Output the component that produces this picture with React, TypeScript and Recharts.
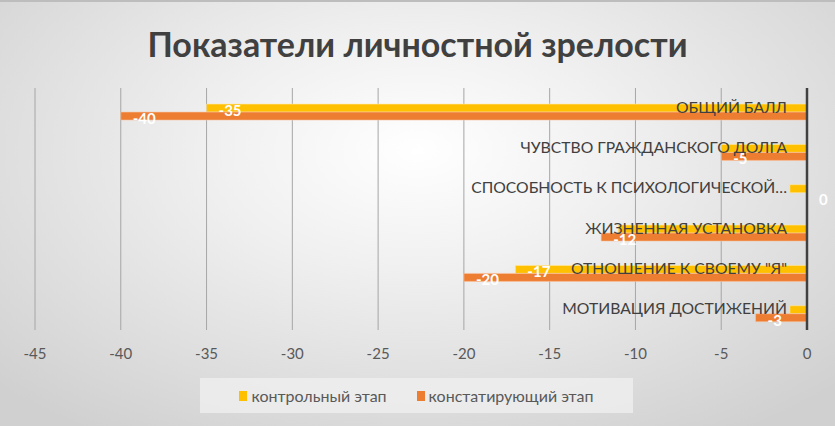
import React from 'react';
import { BarChart, Bar, XAxis, YAxis, CartesianGrid, Legend, LabelList } from 'recharts';

const categories = [
  'ОБЩИЙ БАЛЛ',
  'ЧУВСТВО ГРАЖДАНСКОГО ДОЛГА',
  'СПОСОБНОСТЬ К ПСИХОЛОГИЧЕСКОЙ…',
  'ЖИЗНЕННАЯ УСТАНОВКА',
  'ОТНОШЕНИЕ К СВОЕМУ "Я"',
  'МОТИВАЦИЯ ДОСТИЖЕНИЙ',
];
const controlStage = [-35, -5, -1, -11, -17, -1];
const statingStage = [-40, -5, 0, -12, -20, -3];
const xTicks = [-45, -40, -35, -30, -25, -20, -15, -10, -5, 0];

const seriesNames = ['контрольный этап', 'констатирующий этап'];
const YELLOW = '#FFC000';
const ORANGE = '#ED7D31';
const FONT = 'Lato, "Noto Sans", sans-serif';

const data = categories.map((name, i) => ({
  name,
  control: controlStage[i],
  stating: statingStage[i],
}));

// category text sits over the yellow bars; hide yellow labels that would collide with it
const CHAR_W = 10.2;

const CategoryTick = (props: any) => {
  const { x, y, payload } = props;
  return (
    <text x={x - 20} y={y - 1.5} textAnchor="end" dominantBaseline="central"
      fill="#404040" fontSize={15.7} fontFamily={FONT}>
      {payload.value}
    </text>
  );
};

const makeLabel = (hideUnderText: boolean) => (props: any) => {
  const { x, y, width, height, value, index } = props;
  const w = Number(width) || 0;
  const left = Math.min(x, x + w);
  const right = Math.max(x, x + w);
  const tx = left + 12;
  if (hideUnderText) {
    const textStart = right - 20 - categories[index].length * CHAR_W;
    if (tx + 26 > textStart) return null;
  }
  return (
    <text x={tx} y={y + height / 2 + 2} dominantBaseline="central" fill="#fff"
      fontSize={15} fontWeight="bold" fontFamily={FONT}>
      {value}
    </text>
  );
};

const LegendBox = () => (
  <div style={{
    width: 433, height: 35, background: 'rgba(240,240,240,0.75)',
    display: 'flex', alignItems: 'center', justifyContent: 'center', gap: 30,
    fontFamily: FONT, fontSize: 16, color: '#595959',
  }}>
    {[YELLOW, ORANGE].map((c, i) => (
      <span key={i} style={{ display: 'flex', alignItems: 'center' }}>
        <span style={{ width: 8, height: 10, background: c, marginRight: 4, display: 'inline-block' }} />
        {seriesNames[i]}
      </span>
    ))}
  </div>
);

export default function App() {
  return (
    <div style={{
      position: 'absolute', left: 0, top: 0, width: 835, height: 426,
      background: 'radial-gradient(ellipse 70% 80% at 50% 35%, #ffffff 0%, #f0f0f0 35%, #d0d0d0 100%)',
      borderTop: '2px solid #bdbdbd', boxSizing: 'border-box',
    }}>
      <div style={{
        position: 'absolute', left: 0, width: 835, top: 21, textAlign: 'center',
        fontFamily: FONT, fontWeight: 'bold', fontSize: 34, color: '#404040',
      }}>
        Показатели личностной зрелости
      </div>
      <BarChart width={835} height={424} data={data} layout="vertical"
        margin={{ top: 86, right: 27, bottom: 56, left: 35 }}
        barCategoryGap="20%" barGap={0}>
        <CartesianGrid horizontal={false} stroke="#a6a6a6" />
        <XAxis type="number" domain={[-45, 0]} ticks={xTicks} axisLine={false} tickLine={false}
          tickMargin={12} height={40} interval={0}
          tick={{ fill: '#595959', fontSize: 15, fontFamily: FONT }} />
        <Bar dataKey="blank" legendType="none" isAnimationActive={false} />
        <Bar dataKey="control" name={seriesNames[0]} fill={YELLOW} stroke="#ffe9a8" strokeWidth={0.6}
          isAnimationActive={false}>
          <LabelList dataKey="control" content={makeLabel(true)} />
        </Bar>
        <Bar dataKey="stating" name={seriesNames[1]} fill={ORANGE} stroke="#f8c6a4" strokeWidth={0.6}
          minPointSize={0.01} isAnimationActive={false}>
          <LabelList dataKey="stating" content={makeLabel(false)} />
        </Bar>
        <YAxis type="category" dataKey="name" orientation="right" width={1}
          tickSize={0} tickMargin={0} tickLine={false} interval={0}
          axisLine={{ stroke: '#404040', strokeWidth: 2.5 }} tick={<CategoryTick />} />
        <Legend layout="vertical" align="center" verticalAlign="middle" content={() => <LegendBox />}
          wrapperStyle={{ position: 'absolute', left: 200, top: 376, width: 433 }} />
      </BarChart>
    </div>
  );
}
